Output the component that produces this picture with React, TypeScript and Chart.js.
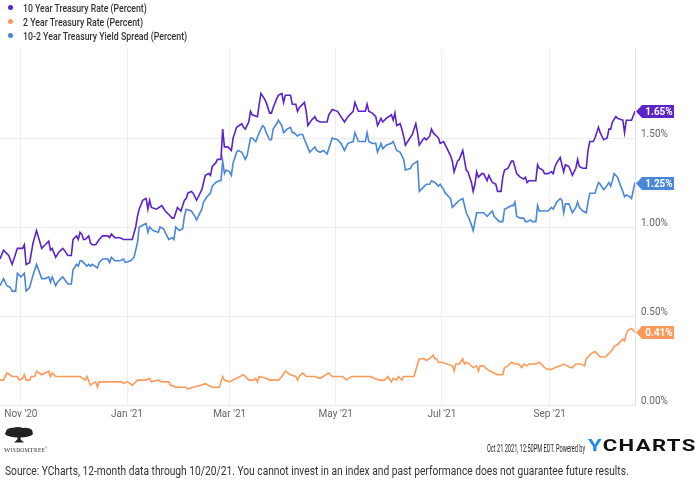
import React, { useEffect, useLayoutEffect, useRef, useState } from "react";
import { Chart, registerables } from "chart.js";

Chart.register(...registerables);

// Calendar days counted from 2020-10-20 (day 0) to 2021-10-20 (day 365)
const tenYearDays = [0,2,5,7,10,13,14,15,17,19,21,24,26,28,29,30,32,34,36,37,39,41,42,44,45,46,47,48,49,51,52,53,55,57,59,62,63,64,66,69,71,74,76,78,79,80,82,84,85,86,87,90,93,95,97,99,100,102,104,106,107,108,110,111,112,113,116,117,118,120,121,122,124,125,127,128,129,131,133,134,135,136,139,140,141,143,144,145,148,149,150,152,153,155,156,157,159,160,162,163,164,167,168,170,171,172,175,176,177,179,181,182,184,186,188,189,191,194,196,198,200,203,204,206,208,210,211,212,214,216,217,219,220,222,225,226,227,228,230,231,232,233,235,237,239,240,241,243,244,245,247,248,249,251,252,253,255,257,259,260,261,263,264,266,268,269,271,272,273,274,275,277,278,280,281,283,285,286,288,289,290,292,294,295,297,299,301,302,303,304,306,308,309,310,312,313,315,317,318,319,320,322,324,325,327,329,331,332,333,335,337,338,339,341,342,344,345,347,349,350,351,352,354,355,358,359,360,363,365];
const tenYearRates = [0.82,0.87,0.84,0.79,0.88,0.88,0.9,0.79,0.8,0.91,0.98,0.88,0.9,0.92,0.87,0.88,0.83,0.86,0.88,0.87,0.84,0.84,0.93,0.95,0.93,0.97,0.96,0.93,0.93,0.95,0.91,0.9,0.9,0.93,0.95,0.95,0.94,0.96,0.94,0.94,0.93,0.93,0.93,1.0,1.06,1.1,1.15,1.16,1.1,1.15,1.11,1.1,1.12,1.09,1.07,1.05,1.05,1.11,1.09,1.15,1.16,1.19,1.2,1.19,1.17,1.15,1.21,1.25,1.29,1.3,1.29,1.34,1.36,1.38,1.38,1.55,1.45,1.45,1.43,1.5,1.53,1.56,1.58,1.56,1.55,1.59,1.65,1.63,1.62,1.69,1.75,1.72,1.7,1.64,1.64,1.67,1.72,1.74,1.75,1.7,1.74,1.74,1.69,1.69,1.65,1.67,1.7,1.65,1.57,1.6,1.62,1.6,1.59,1.59,1.59,1.63,1.66,1.65,1.62,1.59,1.62,1.65,1.7,1.65,1.65,1.65,1.69,1.65,1.64,1.62,1.57,1.61,1.59,1.61,1.63,1.6,1.64,1.57,1.58,1.55,1.51,1.46,1.49,1.52,1.58,1.53,1.46,1.49,1.5,1.49,1.51,1.55,1.53,1.51,1.5,1.47,1.48,1.44,1.4,1.37,1.31,1.37,1.38,1.43,1.32,1.31,1.25,1.2,1.24,1.31,1.28,1.3,1.3,1.26,1.29,1.25,1.24,1.2,1.2,1.28,1.32,1.33,1.37,1.37,1.3,1.28,1.27,1.28,1.25,1.26,1.26,1.26,1.35,1.33,1.32,1.3,1.3,1.31,1.3,1.34,1.36,1.39,1.31,1.35,1.34,1.29,1.33,1.38,1.34,1.33,1.33,1.43,1.48,1.48,1.5,1.56,1.53,1.49,1.5,1.55,1.55,1.59,1.62,1.61,1.6,1.53,1.6,1.6,1.65];

const twoYearDays = [0,2,4,7,10,11,13,14,15,17,18,20,21,24,26,28,29,30,32,36,37,39,42,44,46,49,50,52,53,55,56,57,62,66,70,71,73,75,76,79,84,86,87,91,93,97,98,99,101,105,107,108,111,115,118,120,122,126,128,129,132,134,136,140,143,146,147,148,149,153,155,160,162,164,167,170,171,172,174,176,181,184,189,191,197,199,202,211,213,215,218,221,223,225,226,228,229,231,232,238,240,241,244,245,247,249,250,251,252,254,257,260,261,262,264,266,267,268,270,272,274,275,276,278,280,282,284,286,289,290,292,294,296,298,300,301,303,304,306,308,310,312,313,315,317,319,322,324,326,328,329,331,334,336,337,340,342,343,345,348,349,352,353,355,358,359,360,361,363,365];
const twoYearRates = [0.14,0.14,0.18,0.16,0.16,0.14,0.15,0.17,0.14,0.14,0.16,0.16,0.19,0.17,0.18,0.19,0.16,0.18,0.16,0.16,0.16,0.16,0.16,0.16,0.16,0.14,0.16,0.11,0.12,0.13,0.1,0.13,0.13,0.13,0.13,0.12,0.13,0.12,0.11,0.14,0.14,0.15,0.13,0.14,0.13,0.13,0.11,0.11,0.1,0.1,0.1,0.09,0.1,0.11,0.12,0.11,0.1,0.1,0.16,0.14,0.13,0.14,0.15,0.17,0.14,0.14,0.15,0.13,0.16,0.15,0.14,0.14,0.16,0.19,0.17,0.16,0.14,0.16,0.18,0.16,0.16,0.15,0.18,0.16,0.16,0.14,0.16,0.16,0.16,0.15,0.14,0.14,0.16,0.13,0.15,0.14,0.16,0.14,0.16,0.16,0.23,0.26,0.26,0.25,0.26,0.28,0.26,0.26,0.24,0.24,0.23,0.22,0.19,0.23,0.23,0.26,0.23,0.24,0.23,0.21,0.22,0.19,0.22,0.22,0.2,0.19,0.18,0.17,0.17,0.21,0.22,0.24,0.23,0.23,0.21,0.23,0.22,0.23,0.23,0.23,0.24,0.22,0.21,0.2,0.2,0.21,0.22,0.23,0.22,0.21,0.21,0.23,0.23,0.22,0.26,0.29,0.3,0.29,0.27,0.27,0.28,0.31,0.33,0.34,0.37,0.36,0.4,0.42,0.43,0.41];

const spreadDays = [0,2,4,6,7,9,10,12,14,15,17,19,21,24,26,28,29,30,32,33,36,39,41,42,44,45,46,47,49,50,51,52,53,56,57,59,62,63,64,66,69,71,72,75,77,79,80,82,84,85,86,88,91,92,94,95,97,99,100,101,103,105,106,107,110,112,113,116,117,119,121,122,124,126,127,128,129,130,132,133,134,136,137,139,141,142,144,145,147,149,151,152,153,155,156,157,159,160,162,163,165,167,168,169,171,172,174,175,176,178,179,181,182,184,186,188,190,191,194,196,198,200,203,204,206,208,210,211,212,214,216,217,219,220,222,225,226,228,230,232,233,236,237,240,241,243,245,247,248,250,252,253,255,256,259,260,263,264,266,268,270,272,273,274,276,278,280,281,283,284,286,287,289,290,292,294,295,296,297,299,301,302,303,305,306,308,309,310,313,315,317,318,319,320,322,323,324,325,327,329,331,332,333,335,337,338,339,341,342,344,345,347,348,350,351,352,353,355,356,358,359,360,362,363,365];
const spreadValues = [0.67,0.71,0.67,0.66,0.64,0.64,0.74,0.72,0.74,0.64,0.66,0.73,0.79,0.71,0.71,0.72,0.69,0.72,0.67,0.69,0.72,0.68,0.68,0.76,0.79,0.78,0.81,0.81,0.79,0.78,0.79,0.78,0.79,0.77,0.8,0.82,0.82,0.8,0.83,0.81,0.81,0.82,0.8,0.81,0.83,0.91,1.0,1.01,1.02,0.97,1.0,0.98,0.97,1.0,0.99,0.97,0.93,0.94,0.93,1.0,0.98,0.99,1.06,1.1,1.09,1.06,1.04,1.1,1.14,1.17,1.19,1.23,1.25,1.26,1.26,1.37,1.3,1.32,1.31,1.29,1.36,1.42,1.43,1.42,1.38,1.4,1.5,1.5,1.48,1.53,1.57,1.56,1.53,1.49,1.49,1.55,1.58,1.6,1.57,1.53,1.55,1.56,1.53,1.53,1.51,1.52,1.52,1.49,1.47,1.42,1.43,1.45,1.43,1.42,1.43,1.41,1.47,1.5,1.49,1.47,1.43,1.47,1.48,1.53,1.48,1.48,1.48,1.53,1.48,1.47,1.47,1.42,1.47,1.44,1.46,1.47,1.48,1.43,1.42,1.38,1.32,1.33,1.35,1.37,1.2,1.22,1.24,1.24,1.26,1.25,1.23,1.24,1.21,1.19,1.16,1.11,1.14,1.15,1.16,1.08,1.04,0.98,1.03,1.08,1.08,1.08,1.06,1.07,1.09,1.06,1.04,1.03,1.03,1.1,1.11,1.12,1.12,1.14,1.06,1.05,1.05,1.03,1.03,1.04,1.03,1.03,1.12,1.09,1.09,1.09,1.11,1.1,1.12,1.14,1.16,1.15,1.08,1.13,1.13,1.08,1.11,1.14,1.11,1.09,1.08,1.14,1.19,1.19,1.19,1.25,1.24,1.21,1.22,1.25,1.23,1.26,1.3,1.28,1.25,1.2,1.17,1.18,1.17,1.16,1.25];

const monthTickDays = [12, 73, 132, 193, 254, 316];
const monthTickLabels = ["Nov '20", "Jan '21", "Mar '21", "May '21", "Jul '21", "Sep '21"];

const seriesNames = [
  "10 Year Treasury Rate (Percent)",
  "2 Year Treasury Rate (Percent)",
  "10-2 Year Treasury Yield Spread (Percent)",
];
const seriesColors = ["#5b23c9", "#fd9a5a", "#4a86da"];

const FONT = "Roboto, 'Noto Sans', sans-serif";

function toPoints(days: number[], values: number[]) {
  return days.map((d, i) => ({ x: d, y: values[i] }));
}

// Flag-shaped tag on the right axis showing each series' latest value
const endTagPlugin = {
  id: "endTags",
  afterDraw(chart: any) {
    const { ctx, chartArea, scales } = chart;
    ctx.save();
    chart.data.datasets.forEach((ds: any) => {
      const last = ds.data[ds.data.length - 1];
      const y = Math.round(scales.y.getPixelForValue(last.y)) + 0.5;
      const tip = chartArea.right + 1;
      const bodyL = tip + 6;
      const bodyR = tip + 38;
      const h = 6.5;
      ctx.beginPath();
      ctx.moveTo(tip, y);
      ctx.lineTo(bodyL, y - h);
      ctx.lineTo(bodyR, y - h);
      ctx.lineTo(bodyR, y + h);
      ctx.lineTo(bodyL, y + h);
      ctx.closePath();
      ctx.fillStyle = ds.borderColor;
      ctx.fill();
      ctx.fillStyle = "#ffffff";
      ctx.font = `bold 10px ${FONT}`;
      ctx.textAlign = "center";
      ctx.textBaseline = "middle";
      ctx.fillText(last.y.toFixed(2) + "%", (bodyL + bodyR) / 2 + 1, y + 0.5);
    });
    ctx.restore();
  },
};

function FitText({ width, style, children }: { width: number; style?: React.CSSProperties; children: React.ReactNode }) {
  const ref = useRef<HTMLSpanElement>(null);
  const [sx, setSx] = useState(1);
  useLayoutEffect(() => {
    if (ref.current) {
      const w = ref.current.offsetWidth;
      if (w > 0) setSx(width / w);
    }
  }, [width]);
  return (
    <span
      ref={ref}
      style={{
        display: "inline-block",
        whiteSpace: "nowrap",
        transformOrigin: "left center",
        transform: `scaleX(${sx})`,
        ...style,
      }}
    >
      {children}
    </span>
  );
}

function TreeLogo() {
  return (
    <svg width="30" height="16" viewBox="0 0 30 16" style={{ display: "block" }}>
      <g fill="#222">
        <ellipse cx="15" cy="6.5" rx="14" ry="4" />
        <ellipse cx="9" cy="4.5" rx="7" ry="3.8" />
        <ellipse cx="21" cy="4.5" rx="7.5" ry="3.8" />
        <ellipse cx="14" cy="2.8" rx="6" ry="2.8" />
        <rect x="13.5" y="7" width="3" height="8" />
        <path d="M10 15.5 L15 11 L20 15.5 Z" />
      </g>
    </svg>
  );
}

export default function App() {
  const canvasRef = useRef<HTMLCanvasElement>(null);

  useEffect(() => {
    if (!canvasRef.current) return;
    const datasets = [
      { label: seriesNames[0], data: toPoints(tenYearDays, tenYearRates), borderColor: seriesColors[0] },
      { label: seriesNames[1], data: toPoints(twoYearDays, twoYearRates), borderColor: seriesColors[1] },
      { label: seriesNames[2], data: toPoints(spreadDays, spreadValues), borderColor: seriesColors[2] },
    ].map((d) => ({
      ...d,
      backgroundColor: d.borderColor,
      borderWidth: 1.6,
      pointRadius: 0,
      tension: 0,
      fill: false,
    }));

    const chart = new Chart(canvasRef.current, {
      type: "line",
      data: { datasets },
      options: {
        animation: false,
        responsive: false,
        devicePixelRatio: 1,
        layout: { padding: { top: 49, bottom: 61, left: 0, right: 0 } },
        plugins: { legend: { display: false }, tooltip: { enabled: false } },
        scales: {
          x: {
            type: "linear",
            min: 0,
            max: 365,
            afterBuildTicks: (scale: any) => {
              scale.ticks = monthTickDays.map((v) => ({ value: v }));
            },
            afterFit: (scale: any) => {
              scale.height = 20;
            },
            ticks: {
              autoSkip: false,
              maxRotation: 0,
              padding: 3,
              color: "#666666",
              font: { family: FONT, size: 10 },
              callback: (v: any) => {
                const i = monthTickDays.indexOf(Number(v));
                return i >= 0 ? monthTickLabels[i] : "";
              },
            },
            grid: { color: "#efefef", drawTicks: false },
            border: { display: false },
          },
          y: {
            position: "right",
            min: 0,
            max: 2,
            afterFit: (scale: any) => {
              scale.width = 65;
            },
            ticks: {
              stepSize: 0.5,
              padding: 6,
              labelOffset: -4,
              color: "#666666",
              font: { family: FONT, size: 10 },
              callback: (v: any) => (Number(v) >= 2 ? "" : Number(v).toFixed(2) + "%"),
            },
            grid: {
              drawTicks: false,
              color: (ctx: any) => (ctx.tick && ctx.tick.value >= 2 ? "rgba(0,0,0,0)" : "#ececec"),
            },
            border: { display: true, color: "#e2e2e2" },
          },
        },
      },
      plugins: [endTagPlugin],
    });
    return () => chart.destroy();
  }, []);

  return (
    <div
      style={{
        position: "fixed",
        left: 0,
        top: 0,
        width: 700,
        height: 486,
        background: "#ffffff",
        overflow: "hidden",
        fontFamily: FONT,
      }}
    >
      <canvas ref={canvasRef} width={700} height={486} style={{ position: "absolute", left: 0, top: 0, display: "block" }} />

      {seriesNames.map((name, i) => (
        <div key={name} style={{ position: "absolute", left: 0, top: i * 14, height: 14, width: 240 }}>
          <span
            style={{
              position: "absolute",
              left: 8,
              top: 5,
              width: 5,
              height: 5,
              borderRadius: "50%",
              background: seriesColors[i],
            }}
          />
          <div style={{ position: "absolute", left: 23, top: 0, lineHeight: "14px" }}>
            <FitText width={[124, 120, 164][i]} style={{ fontSize: 11.5, fontWeight: 500, color: "#333333" }}>
              {name}
            </FitText>
          </div>
        </div>
      ))}

      <div style={{ position: "absolute", left: 4, top: 427 }}>
        <TreeLogo />
      </div>
      <div style={{ position: "absolute", left: 4, top: 443, lineHeight: "8px" }}>
        <FitText width={44} style={{ fontFamily: "'Liberation Serif', serif", fontSize: 7, letterSpacing: 0.3, color: "#333" }}>
          W<span style={{ fontSize: 5.5 }}>ISDOM</span>T<span style={{ fontSize: 5.5 }}>REE</span>
          <sup style={{ fontSize: 3 }}>®</sup>
        </FitText>
      </div>

      <div style={{ position: "absolute", left: 487, top: 440, lineHeight: "13px" }}>
        <FitText width={98} style={{ fontSize: 11.5, color: "#222" }}>
          Oct 21 2021, 12:50PM EDT. Powered by
        </FitText>
      </div>
      <div style={{ position: "absolute", left: 588, top: 438, lineHeight: "16px" }}>
        <FitText width={109} style={{ fontSize: 16, fontWeight: 700, color: "#111", letterSpacing: 1 }}>
          <span style={{ color: "#1f8fe5" }}>Y</span>CHARTS
        </FitText>
      </div>

      <div style={{ position: "absolute", left: 5, top: 462, lineHeight: "15px" }}>
        <FitText width={624} style={{ fontSize: 13, color: "#333333" }}>
          Source: YCharts, 12-month data through 10/20/21. You cannot invest in an index and past performance does not guarantee future results.
        </FitText>
      </div>
    </div>
  );
}
